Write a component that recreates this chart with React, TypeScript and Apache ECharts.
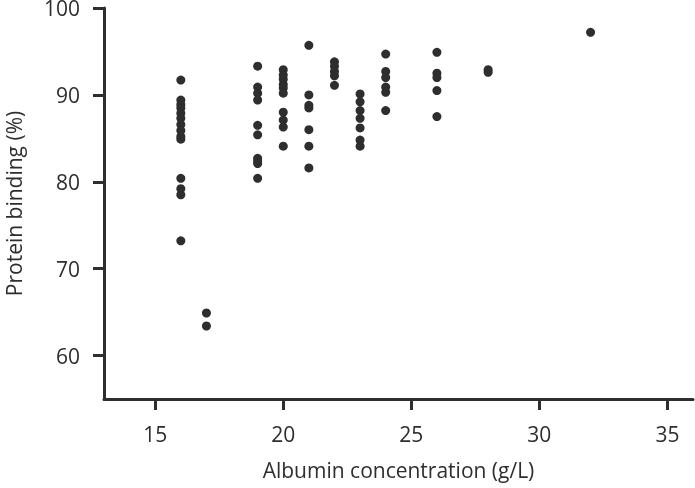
import React, { useEffect, useRef } from "react";
import * as echarts from "echarts";

const albumin = [
  16, 16, 16, 16, 16, 16, 16, 16, 16, 16, 16, 16, 16, 16,
  17, 17,
  19, 19, 19, 19, 19, 19, 19, 19, 19, 19,
  20, 20, 20, 20, 20, 20, 20, 20, 20, 20,
  21, 21, 21, 21, 21, 21, 21,
  22, 22, 22, 22, 22,
  23, 23, 23, 23, 23, 23, 23,
  24, 24, 24, 24, 24, 24,
  26, 26, 26, 26, 26,
  28, 28,
  32,
];
const binding = [
  91.7, 89.4, 88.9, 88.5, 87.9, 87.3, 86.6, 85.9, 85.2, 84.9, 80.4, 79.2, 78.5, 73.2,
  64.9, 63.4,
  93.3, 90.9, 90.2, 89.4, 86.5, 85.4, 82.7, 82.1, 80.4, 82.4,
  92.9, 92.3, 91.8, 91.2, 90.8, 90.2, 88.0, 87.1, 86.3, 84.1,
  95.7, 90.0, 88.8, 88.5, 86.0, 84.1, 81.6,
  93.8, 93.3, 92.7, 92.2, 91.1,
  90.1, 89.2, 88.2, 87.3, 86.2, 84.8, 84.1,
  94.7, 92.7, 92.0, 90.9, 90.3, 88.2,
  94.9, 92.5, 92.0, 90.5, 87.5,
  92.9, 92.6,
  97.2,
];
const xTicks = [15, 20, 25, 30, 35];
const yTicks = [60, 70, 80, 90, 100];

const FONT = "Open Sans";
const INK = "#2e2e2e";

export default function App() {
  const ref = useRef<HTMLDivElement>(null);
  useEffect(() => {
    if (!ref.current) return;
    const chart = echarts.init(ref.current, null, { renderer: "svg" });
    const axisCommon = {
      axisLine: { show: true, lineStyle: { color: INK, width: 3 } },
      axisTick: { show: true, length: 11, lineStyle: { color: INK, width: 3 } },
      splitLine: { show: false },
      nameLocation: "middle" as const,
      nameTextStyle: { color: INK, fontSize: 21, fontFamily: FONT },
    };
    chart.setOption({
      animation: false,
      grid: {
        left: 104,
        right: 2,
        top: 8,
        bottom: 89,
        containLabel: false,
        outerBoundsMode: "none",
      },
      xAxis: {
        ...axisCommon,
        type: "value",
        min: 13,
        max: 36,
        name: "Albumin concentration (g/L)",
        nameGap: 60,
        axisLabel: {
          color: INK,
          fontSize: 21,
          fontFamily: FONT,
          margin: 24,
          customValues: xTicks,
        },
        axisTick: { ...axisCommon.axisTick, customValues: xTicks },
      },
      yAxis: {
        ...axisCommon,
        type: "value",
        min: 55,
        max: 100,
        name: "Protein binding (%)",
        nameGap: 80,
        axisLabel: {
          color: INK,
          fontSize: 21,
          fontFamily: FONT,
          margin: 24,
          customValues: yTicks,
        },
        axisTick: { ...axisCommon.axisTick, customValues: yTicks },
      },
      series: [
        {
          type: "scatter",
          symbol: "circle",
          symbolSize: 9,
          itemStyle: { color: INK, opacity: 1 },
          data: albumin.map((a, i) => [a, binding[i]]),
        },
      ],
    });
    return () => chart.dispose();
  }, []);
  return (
    <div
      ref={ref}
      style={{ position: "fixed", left: 0, top: 0, width: 695, height: 488 }}
    />
  );
}
